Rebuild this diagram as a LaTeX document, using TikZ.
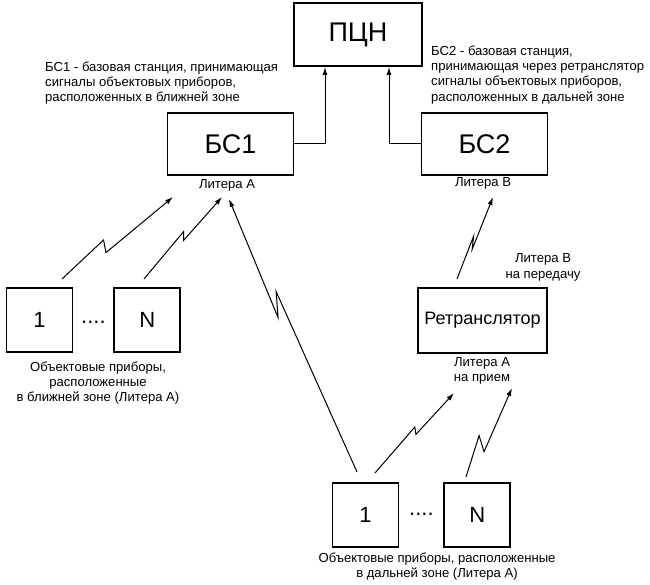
\documentclass[tikz,border=0pt]{standalone}
\usepackage{fontspec}
\setmainfont{Liberation Sans}
\usetikzlibrary{positioning,calc,arrows.meta}

\tikzset{
  box/.style={draw, line width=1.8pt, minimum width=126pt, minimum height=62pt, inner sep=0pt, font=\fontsize{27}{30}\selectfont},
  dev/.style={draw, line width=1.8pt, minimum width=66pt, minimum height=64pt, inner sep=0pt, font=\fontsize{22}{24}\selectfont},
  note/.style={inner sep=0pt, align=center, font=\fontsize{13.1}{15.3}\selectfont},
  dots/.style={inner sep=0pt, font=\fontsize{22}{24}\selectfont},
  link/.style={line width=1pt, -{Latex[length=8pt,width=5pt]}},
  zap/.style n args={4}{to path={-- ($(\tikztostart)!#1!(\tikztotarget)!#2!90:(\tikztotarget)$) -- ($(\tikztostart)!#3!(\tikztotarget)!#4!90:(\tikztotarget)$) -- (\tikztotarget)}},
}

\begin{document}
\begin{tikzpicture}[x=1pt, y=-1pt]
    \useasboundingbox (0,0) rectangle (650,585);

    % Stations
    \node[box, minimum width=128pt, minimum height=63pt] (pcn) at (358,34.5) {ПЦН};
    \node[box] (bs1) at (230.5,144) {БС1};
    \node[box] (bs2) at (484.5,144) {БС2};
    \node[box, minimum width=129pt, minimum height=65pt, font=\fontsize{18}{21}\selectfont] (rtr) at (482.5,320.5) {Ретранслятор};

    % Devices, near zone
    \node[dev] (n1a) at (39.5,320) {1};
    \node[dev, right=40pt of n1a] (nNa) {N};
    \node[dots] (dotsa) at ($(n1a.east)!0.5!(nNa.west)+(0,2)$) {....};

    % Devices, far zone
    \node[dev] (n1b) at (365.5,515) {1};
    \node[dev, right=44pt of n1b] (nNb) {N};
    \node[dots] (dotsb) at ($(n1b.east)!0.5!(nNb.west)+(0,-1)$) {....};

    % Labels
    \node[note, anchor=north west, align=left] (bs1txt) at (45,61.5) {БС1 - базовая станция, принимающая\\сигналы объектовых приборов,\\расположенных в ближней зоне};
    \node[note, anchor=north west, align=left] (bs2txt) at (431,45.5) {БС2 - базовая станция,\\принимающая через ретранслятор\\сигналы объектовых приборов,\\расположенных в дальней зоне};
    \node[note] (bs1lit) at (227,185) {Литера А};
    \node[note] (bs2lit) at (483,183) {Литера В};
    \node[note] (rtrtx) at (543,267.5) {Литера В\\на передачу};
    \node[note] (rtrrx) at (482,371) {Литера А\\на прием};
    \node[note] (neartxt) at (98,383) {Объектовые приборы,\\расположенные\\в ближней зоне (Литера А)};
    \node[note] (fartxt) at (437,566.5) {Объектовые приборы, расположенные\\в дальней зоне (Литера А)};

    % Wired links
    \draw[link] (bs1.east) -| ($(pcn.south)+(-33,0)$);
    \draw[link] (bs2.west) -| ($(pcn.south)+(31,0)$);

    % Radio links
    \coordinate (a1s) at (62,279);   \coordinate (a1e) at (173,197);
    \coordinate (a2s) at (144,279);  \coordinate (a2e) at (222,197);
    \coordinate (lgs) at (357,472);  \coordinate (lge) at (229,199);
    \coordinate (b1s) at (375,473);  \coordinate (b1e) at (454,393);
    \coordinate (b2s) at (466,477);  \coordinate (b2e) at (512,388);
    \coordinate (rts) at (457,279);  \coordinate (rte) at (493,197);

    \draw[link] (a1s) to[zap={0.41}{6.7pt}{0.37}{-4.9pt}] (a1e);
    \draw[link] (a2s) to[zap={0.545}{4pt}{0.487}{-2.1pt}] (a2e);
    \draw[link] (lgs) to[zap={0.656}{-3.4pt}{0.575}{5.9pt}] (lge);
    \draw[link] (b1s) to[zap={0.54}{4pt}{0.5}{-2pt}] (b1e);
    \draw[link] (b2s) to[zap={0.427}{7.4pt}{0.307}{-4.4pt}] (b2e);
    \draw[link] (rts) to[zap={0.51}{2pt}{0.37}{-2pt}] (rte);
\end{tikzpicture}
\end{document}
